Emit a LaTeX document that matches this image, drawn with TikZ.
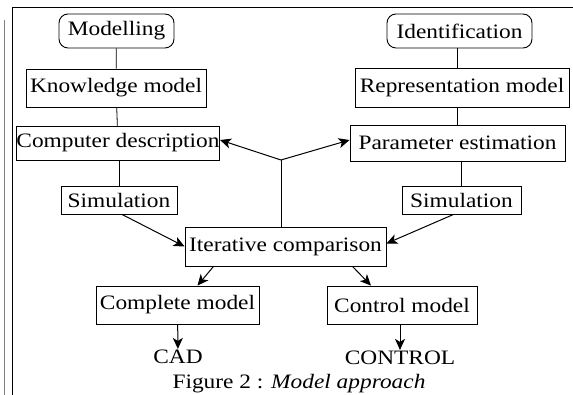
\documentclass[tikz,border=0pt]{standalone}
\usepackage{fontspec}
\setmainfont{Liberation Serif}[FakeStretch=1.14]
\usepackage{tikz}
\usetikzlibrary{arrows.meta,positioning}

\begin{document}
\begin{tikzpicture}[
    x=1pt, y=-1pt,
    every node/.style={font=\fontsize{20.5}{24}\selectfont},
    box/.style={rectangle, draw, line width=0.9pt, inner sep=0pt, align=center},
    phase/.style={box, rounded corners=9pt},
    link/.style={line width=0.8pt},
    arrow/.style={-{Stealth[length=11pt, width=10pt, inset=3pt]}, line width=1pt}
]
\useasboundingbox (0,0) rectangle (573,395);

% Page frame
\draw[line width=1pt] (12,395) -- (12,8) -- (573,8);
\draw[line width=0.6pt, gray] (4,20) -- (4,395);

% Modelling branch
\node[phase, minimum width=115pt, minimum height=34pt] (modelling) at (116.5,31) {Modelling};
\node[box, minimum width=180pt, minimum height=38pt] (knowledge) at (116,88) {Knowledge model};
\node[box, minimum width=200pt, minimum height=34pt] (computer) at (118,143) {Computer description};
\node[box, minimum width=116pt, minimum height=28pt] (simleft) at (119,200) {Simulation};

% Identification branch
\node[phase, minimum width=145pt, minimum height=34pt] (identification) at (459.5,31) {Identification};
\node[box, minimum width=214pt, minimum height=39pt] (representation) at (462,87.5) {Representation model};
\node[box, minimum width=215pt, minimum height=36pt] (parameter) at (457.5,143) {Parameter estimation};
\node[box, minimum width=119pt, minimum height=28pt] (simright) at (461.5,200) {Simulation};

% Comparison and resulting models
\node[box, minimum width=201pt, minimum height=39pt] (iterative) at (285.5,246.5) {Iterative comparison};
\node[box, minimum width=163pt, minimum height=38pt] (complete) at (177.5,305) {Complete model};
\node[box, minimum width=150pt, minimum height=38pt] (control) at (402,305) {Control model};
\node[inner sep=1pt] (cad) at (178,357) {CAD};
\node[inner sep=1pt] (controlout) at (400,358) {CONTROL};

% Caption
\node (caption) at (299,384) {Figure 2 : \textit{Model approach}};

% Vertical links
\draw[link] (modelling) -- (knowledge);
\draw[link] (knowledge) -- (computer);
\draw[link] (computer.south -| simleft) -- (simleft);
\draw[link] (identification.south -| parameter) -- (representation.north -| parameter);
\draw[link] (representation.south -| parameter) -- (parameter);
\draw[link] (parameter.south -| simright) -- (simright);

% Feedback from the comparison
\coordinate (split) at (281,160);
\draw[link] (iterative.north -| split) -- (split);
\draw[arrow] (split) -- ([yshift=3pt]computer.east);
\draw[arrow] (split) -- ([yshift=3pt]parameter.west);

% Simulations into the comparison
\draw[arrow] ([xshift=3pt]simleft.south) -- (iterative.west);
\draw[arrow] ([xshift=-8pt]simright.south) -- ([yshift=3pt]iterative.east);

% Outputs
\draw[arrow] ([xshift=-72pt]iterative.south) -- ([xshift=20pt]complete.north);
\draw[arrow] ([xshift=67pt]iterative.south) -- ([xshift=-31pt]control.north);
\draw[arrow] (complete) -- (cad);
\draw[arrow] (control.south -| controlout) -- (controlout);

\end{tikzpicture}
\end{document}
